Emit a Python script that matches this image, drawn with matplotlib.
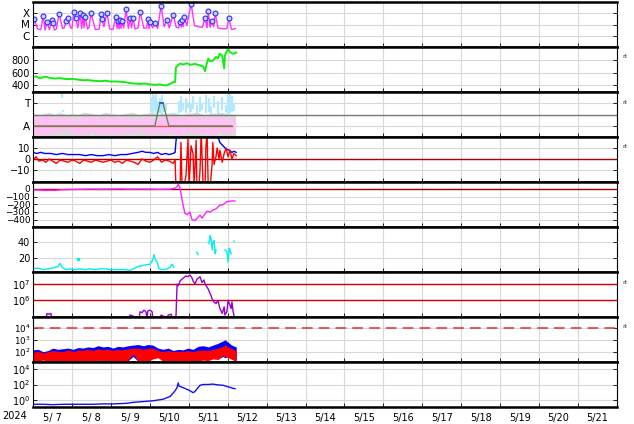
import numpy as np
import matplotlib.pyplot as plt
from matplotlib.ticker import NullLocator

# time axis: days since 2024-05-07 00:00 UT
days = ['5/ 7', '5/ 8', '5/ 9', '5/10', '5/11', '5/12', '5/13', '5/14',
        '5/15', '5/16', '5/17', '5/18', '5/19', '5/20', '5/21']

# X-ray flux (log10 W/m2): flare peaks and background points
flare_t = [0.03, 0.26, 0.36, 0.49, 0.51, 0.67, 0.85, 0.90, 1.05, 1.10, 1.21, 1.28, 1.34, 1.49,
           1.75, 1.77, 1.90, 2.13, 2.18, 2.23, 2.29, 2.39, 2.49, 2.57, 2.75, 2.95, 3.01, 3.13,
           3.29, 3.44, 3.60, 3.78, 3.83, 3.88, 4.06, 4.42, 4.50, 4.60, 4.68, 5.03]
flare_v = [-4.51, -4.24, -4.78, -4.60, -4.87, -4.06, -4.69, -4.42, -3.88, -4.42, -3.97, -4.15,
           -4.33, -3.97, -4.06, -4.51, -3.97, -4.33, -4.69, -4.60, -4.69, -3.62, -4.42, -4.42,
           -3.88, -4.51, -4.78, -4.87, -3.35, -4.60, -4.15, -4.78, -4.60, -4.33, -3.17, -4.42,
           -3.79, -4.69, -3.97, -4.42]
xbg_t = [0.00, 0.12, 0.20, 0.31, 0.42, 0.55, 0.60, 0.76, 0.80, 0.96, 1.00, 1.15, 1.25, 1.31,
         1.40, 1.44, 1.60, 1.70, 1.82, 1.97, 2.05, 2.16, 2.21, 2.26, 2.33, 2.45, 2.53, 2.62,
         2.70, 2.85, 2.92, 2.98, 3.07, 3.20, 3.37, 3.50, 3.68, 3.74, 3.81, 3.86, 3.95, 4.15,
         4.25, 4.35, 4.47, 4.55, 4.64, 4.75, 4.90, 4.98, 5.10, 5.20]
xbg_v = [-5.35, -5.4, -5.45, -5.5, -5.45, -5.5, -5.4, -5.35, -5.3, -5.25, -5.35, -5.3, -5.35,
         -5.3, -5.4, -5.25, -5.45, -5.4, -5.2, -5.4, -5.45, -5.35, -5.4, -5.35, -5.3, -5.35,
         -5.3, -5.4, -5.3, -5.35, -5.3, -5.35, -5.3, -5.35, -5.2, -5.3, -5.25, -5.3, -5.25,
         -5.2, -5.1, -5.1, -5.2, -5.25, -5.3, -5.25, -5.2, -5.3, -5.4, -5.35, -5.45, -5.35]

# solar wind speed (km/s)
sw_t = [0.00, 0.08, 0.18, 0.31, 0.44, 0.57, 0.69, 0.87, 1.00, 1.16, 1.28, 1.41, 1.54, 1.72,
        1.85, 1.98, 2.16, 2.29, 2.44, 2.57, 2.75, 2.88, 3.01, 3.13, 3.26, 3.37, 3.44, 3.52,
        3.60, 3.65, 3.67, 3.73, 3.78, 3.85, 3.96, 4.03, 4.16, 4.29, 4.37, 4.42, 4.44, 4.50,
        4.55, 4.62, 4.70, 4.75, 4.80, 4.86, 4.91, 4.93, 5.01, 5.06, 5.14, 5.22]
sw_v = [525, 540, 510, 535, 515, 505, 512, 495, 500, 488, 478, 482, 470, 463, 470, 458, 458,
        452, 440, 427, 420, 425, 411, 405, 412, 395, 400, 420, 447, 452, 682, 720, 745, 730,
        750, 725, 740, 714, 700, 620, 690, 823, 780, 792, 850, 830, 902, 870, 667, 880, 980,
        930, 900, 920]

# T/A panel (A = 0, T = 1)
ta_t = [0.00, 3.13, 3.26, 3.34, 3.49, 5.11]
ta_v = [0, 0, 1, 1, 0, 0]
ref_t = [0.00, 5.11]
pk_t = [0.00, 0.20, 0.40, 0.55, 0.62, 0.70, 0.85, 1.00, 1.15, 1.30, 1.50, 1.70, 1.85, 2.00,
        2.20, 2.40, 2.55, 2.70, 2.90, 3.05, 3.20, 3.40, 3.60, 3.80, 4.00, 4.20, 4.40, 4.60,
        4.80, 5.00, 5.20]
pk_hi = [0.45, 0.40, 0.45, 0.30, 0.40, 0.45, 0.40, 0.35, 0.30, 0.40, 0.45, 0.35, 0.40, 0.45,
         0.35, 0.40, 0.30, 0.35, 0.40, 0.30, 0.35, 0.45, 0.40, 0.35, 0.45, 0.40, 0.35, 0.45,
         0.40, 0.35, 0.30]
pk_lo = [-0.40, -0.35, -0.40, -0.15, -0.30, -0.20, -0.10, -0.30, -0.40, -0.35, -0.20, -0.40,
         -0.35, -0.30, -0.40, -0.20, -0.35, -0.10, -0.30, -0.40, -0.25, -0.35, -0.30, -0.40,
         -0.20, -0.35, -0.30, -0.40, -0.25, -0.30, -0.20]
gy_hi = [0.55, 0.50, 0.60, 0.50, 0.55, 0.60, 0.50, 0.55, 0.50, 0.60, 0.55, 0.50, 0.60, 0.55,
         0.50, 0.55, 0.60, 0.50, 0.55, 0.60, 0.50, 0.55, 0.60, 0.50, 0.55, 0.60, 0.50, 0.55,
         0.60, 0.55, 0.50]
gy_lo = [-0.45, -0.45, -0.42, -0.45, -0.40, -0.45, -0.45, -0.42, -0.45, -0.45, -0.40, -0.45,
         -0.45, -0.42, -0.45, -0.45, -0.40, -0.45, -0.45, -0.42, -0.45, -0.45, -0.40, -0.45,
         -0.45, -0.42, -0.45, -0.45, -0.40, -0.45, -0.45]
lb_t = [0.74, 0.77, 3.06, 3.09, 3.13, 3.17, 3.21, 3.27, 3.31, 3.36, 3.42, 3.75, 3.80, 3.86,
        3.92, 3.98, 4.05, 4.12, 4.20, 4.28, 4.35, 4.45, 4.52, 4.58, 4.66, 4.75, 4.85, 4.95,
        5.00, 5.05, 5.10, 5.16]
lb_lo = [1.2, 0.6, 0.6, 0.55, 0.7, 0.5, 0.6, 0.55, 0.5, 0.6, 0.7, 0.55, 0.6, 0.7, 0.55, 0.8,
         0.6, 0.75, 0.55, 0.6, 0.7, 0.55, 0.6, 0.5, 0.8, 0.55, 0.7, 0.6, 0.5, 0.55, 0.6, 0.65]
lb_hi = [1.48, 0.7, 1.2, 1.45, 1.3, 1.45, 1.1, 1.2, 1.35, 1.0, 0.95, 1.1, 1.3, 0.95, 1.2,
         1.05, 1.0, 1.3, 0.9, 1.25, 1.0, 1.35, 1.2, 0.85, 1.3, 1.1, 1.25, 0.9, 1.4, 1.45, 1.3, 1.0]

# IMF Bt (blue) and Bz (red), nT
bt_t = [0.00, 0.10, 0.20, 0.30, 0.45, 0.60, 0.75, 0.90, 1.05, 1.20, 1.35, 1.50, 1.65, 1.80,
        1.95, 2.10, 2.25, 2.40, 2.55, 2.70, 2.80, 2.90, 3.00, 3.10, 3.20, 3.30, 3.40, 3.50,
        3.60, 3.65, 3.67, 3.70, 4.70, 4.75, 4.80, 4.88, 4.96, 5.04, 5.11, 5.16, 5.22]
bt_v = [6, 5, 6, 5, 5, 4, 5, 4, 4, 4, 3, 4, 3, 3, 4, 3, 4, 4, 5, 6, 7, 6, 6, 5, 6, 4, 5, 4,
        5, 6, 15, 25, 25, 20, 15, 12, 9, 8, 6, 7, 6]
bz_t = [0.00, 0.08, 0.15, 0.25, 0.33, 0.42, 0.50, 0.60, 0.70, 0.80, 0.90, 1.00, 1.10, 1.20,
        1.30, 1.40, 1.50, 1.60, 1.70, 1.80, 1.90, 2.00, 2.10, 2.20, 2.30, 2.40, 2.50, 2.60,
        2.70, 2.80, 2.90, 3.00, 3.10, 3.20, 3.30, 3.40, 3.50, 3.60, 3.65,
        3.67, 3.73, 3.78, 3.80, 3.83, 3.88, 3.93, 3.98, 4.01, 4.06, 4.11, 4.14, 4.19, 4.21,
        4.26, 4.29, 4.32, 4.37, 4.42, 4.44, 4.47, 4.50, 4.55, 4.60, 4.62, 4.65, 4.70, 4.73,
        4.78, 4.80, 4.86, 4.91, 4.96, 5.01, 5.06, 5.11, 5.16, 5.22]
bz_v = [-1, 2, -2, -1, -3, 0, -2, -4, -1, -2, -3, -1, -2, -4, -1, -2, -3, -1, -2, -3, -2, -1,
        -3, -2, -4, -1, -2, -3, -5, 0, -2, -3, -1, 2, -3, -1, -2, -4, -1,
        -25, -25, -25, 15, -25, -25, -15, 18, -25, 12, 5, -25, 17, -25, -25, -10, 25, -25,
        -25, 10, 25, -25, -25, -5, 15, -5, 2, 10, 0, 8, -3, 5, 10, 2, 8, 0, 5, 3]

# Dst (nT)
dst_t = [0.00, 0.18, 0.31, 0.44, 0.57, 0.69, 0.95, 1.21, 1.46, 1.72, 1.98, 2.23, 2.49, 2.75,
         3.01, 3.26, 3.52, 3.65, 3.70, 3.73, 3.78, 3.83, 3.90, 3.96, 4.03, 4.08, 4.16, 4.24,
         4.29, 4.34, 4.47, 4.55, 4.62, 4.70, 4.80, 4.88, 4.98, 5.14, 5.19]
dst_v = [-15, -15, -20, -18, -20, -12, -8, -5, -2, -3, -2, 0, -3, -2, -3, -5, -3, 10, 30, 60,
         10, -145, -315, -335, -300, -395, -410, -370, -340, -380, -290, -300, -275, -260,
         -210, -205, -165, -155, -158]

# proton density-like cyan series (gaps as nan)
cy_t = [0.00, 0.13, 0.26, 0.39, 0.51, 0.64, 0.69, 0.75, 0.85, 0.95, 1.08, 1.21, 1.34, 1.46,
        1.59, 1.72, 1.85, 1.98, 2.11, 2.23, 2.36, 2.49, 2.62, 2.70, 2.80, 2.90, 3.01, 3.06,
        3.11, 3.13, 3.19, 3.24, 3.34, 3.44, 3.52, 3.57, 3.62, 3.90, 4.21, 4.24, 4.40, 4.52,
        4.55, 4.57, 4.60, 4.62, 4.65, 4.68, 4.70, 4.80, 4.93, 4.98, 5.01, 5.04, 5.06, 5.09,
        5.12, 5.16, 5.17]
cy_v = [6, 7, 5, 6, 7, 9, 13, 8, 5, 6, 5, 6, 5, 6, 5, 6, 6, 5, 5, 5, 5, 4, 7, 9, 10, 11, 12,
        16, 24, 19, 14, 6, 5, 6, 8, 12, 8, np.nan, 27, 24, np.nan, 38, 48, 45, 30, 40, 42, 25,
        30, np.nan, 30, 28, 15, 32, 30, 25, np.nan, 41, 41]
cy_dot_t = [1.16]
cy_dot_v = [19]

# electron flux (log10)
pu_t = [0.00, 0.33, 0.36, 0.41, 0.46, 0.49, 2.44, 2.49, 2.57, 2.59, 2.72, 2.75, 2.80, 2.85,
        2.90, 2.93, 2.95, 3.01, 3.06, 3.08, 3.26, 3.29, 3.34, 3.37, 3.44, 3.47, 3.55, 3.57,
        3.67, 3.70, 3.73, 3.78, 3.85, 3.93, 3.98, 4.03, 4.08, 4.11, 4.16, 4.21, 4.29, 4.34,
        4.39, 4.42, 4.50, 4.57, 4.60, 4.65, 4.70, 4.75, 4.80, 4.86, 4.91, 4.93, 4.98, 5.01,
        5.06, 5.09, 5.11, 5.14, 5.19]
pu_v = [4.8, 4.8, 5.2, 5.15, 5.2, 4.8, 4.8, 5.1, 5.05, 4.8, 4.8, 5.3, 5.25, 5.4, 5.3, 4.9,
        5.35, 5.4, 5.3, 4.8, 4.8, 5.1, 5.05, 4.8, 4.8, 5.1, 5.15, 4.8, 4.8, 7.0, 6.9, 7.2,
        7.35, 7.5, 7.45, 7.55, 7.4, 7.2, 7.0, 7.3, 7.45, 7.1, 7.25, 7.0, 6.7, 6.3, 6.1, 5.9,
        5.8, 6.0, 5.5, 5.2, 5.6, 5.1, 5.3, 6.0, 5.7, 5.5, 5.9, 5.3, 4.8]

# proton flux bands (log10): blue and red channels
p8_t = [0.00, 0.13, 0.26, 0.39, 0.51, 0.64, 0.77, 0.90, 1.03, 1.16, 1.28, 1.41, 1.54, 1.67,
        1.80, 1.93, 2.05, 2.18, 2.31, 2.44, 2.57, 2.70, 2.83, 2.95, 3.08, 3.21, 3.34, 3.47,
        3.60, 3.73, 3.85, 3.98, 4.11, 4.24, 4.37, 4.50, 4.62, 4.75, 4.88, 4.93, 5.01, 5.08,
        5.14, 5.22]
bl_hi = [2.15, 2.2, 2.0, 2.1, 2.3, 2.2, 2.25, 2.3, 2.2, 2.35, 2.3, 2.4, 2.35, 2.5, 2.4, 2.45,
         2.3, 2.45, 2.4, 2.5, 2.55, 2.6, 2.5, 2.6, 2.55, 2.3, 2.2, 2.3, 2.1, 2.2, 2.15, 2.3,
         2.2, 2.45, 2.5, 2.4, 2.55, 2.7, 2.9, 3.0, 2.8, 2.6, 2.5, 2.4]
bl_lo = [1.3, 1.2, 1.5, 1.2, 1.3, 1.2, 1.25, 1.2, 1.3, 1.2, 1.25, 1.3, 1.2, 1.3, 1.25, 1.2,
         1.3, 1.2, 1.3, 1.25, 1.6, 1.2, 1.3, 1.2, 1.5, 1.6, 1.3, 1.2, 1.25, 1.2, 1.3, 1.2, 1.3,
         1.2, 1.4, 1.3, 1.5, 1.4, 1.6, 1.5, 1.6, 1.5, 1.4, 1.3]
rd_hi = [1.95, 2.05, 1.9, 2.0, 2.1, 2.05, 2.0, 2.15, 2.0, 2.15, 2.1, 2.2, 2.1, 2.25, 2.15,
         2.2, 2.1, 2.2, 2.15, 2.25, 2.3, 2.3, 2.2, 2.3, 2.3, 2.1, 2.0, 2.1, 2.0, 2.05, 2.0,
         2.1, 2.0, 2.1, 2.15, 2.1, 2.2, 2.3, 2.45, 2.6, 2.4, 2.3, 2.2, 2.1]
rd_lo = [1.25, 1.2, 1.3, 1.2, 1.25, 1.2, 1.3, 1.2, 1.25, 1.2, 1.2, 1.25, 1.2, 1.3, 1.2, 1.2,
         1.25, 1.2, 1.2, 1.3, 1.8, 1.2, 1.25, 1.2, 1.4, 1.5, 1.2, 1.2, 1.25, 1.2, 1.25, 1.2,
         1.2, 1.2, 1.3, 1.25, 1.4, 1.35, 1.7, 1.6, 1.5, 1.4, 1.3, 1.2]

# bottom panel (log10)
p9_t = [0.00, 0.26, 0.51, 0.77, 1.03, 1.28, 1.54, 1.80, 2.05, 2.31, 2.44, 2.57, 2.70, 2.83,
        2.95, 3.08, 3.21, 3.34, 3.44, 3.52, 3.60, 3.65, 3.70, 3.73, 3.75, 3.80, 3.90, 4.03,
        4.11, 4.16, 4.24, 4.29, 4.37, 4.50, 4.62, 4.75, 4.88, 5.01, 5.11, 5.19]
p9_v = [-0.55, -0.55, -0.6, -0.55, -0.55, -0.55, -0.55, -0.5, -0.5, -0.45, -0.4, -0.3, -0.25,
        -0.2, -0.15, -0.1, 0.0, 0.1, 0.3, 0.45, 0.9, 1.2, 1.6, 2.2, 1.8, 1.7, 1.5, 1.2, 0.95,
        1.1, 1.6, 1.9, 2.0, 2.0, 2.05, 1.95, 1.9, 1.7, 1.55, 1.45]

W, H = 634, 424
plt.rcParams['font.family'] = 'DejaVu Sans'
plt.rcParams['font.size'] = 7
fig = plt.figure(figsize=(W / 100, H / 100), dpi=100)

axes = []
for i in range(9):
    top = 2 + 45 * i
    ax = fig.add_axes([33 / W, 1 - (top + 45) / H, 584 / W, 45 / H])
    ax.set_xlim(0, 15)
    ax.set_xticks(range(16))
    ax.tick_params(axis='x', labelbottom=False)
    ax.tick_params(direction='in', length=3, right=True, pad=2, labelsize=7, width=0.6)
    ax.grid(True, color='#d8d8d8', lw=0.8)
    ax.set_axisbelow(True)
    for s in ['top', 'bottom']:
        ax.spines[s].set_linewidth(1.8)
    for s in ['left', 'right']:
        ax.spines[s].set_linewidth(0.8)
    axes.append(ax)


def log_ticks(ax, ticks):
    ax.set_yscale('log')
    ax.set_yticks(ticks)
    ax.yaxis.set_minor_locator(NullLocator())


# 1: X-ray
ax = axes[0]
xr_t = np.array(xbg_t + flare_t)
xr_v = np.array(xbg_v + flare_v)
order = np.argsort(xr_t)
ax.plot(xr_t[order], 10 ** xr_v[order], color='#ff33ff', lw=1)
ax.plot(flare_t, 10 ** np.array(flare_v), 'o', ms=3.5, mfc='#d0d0ff', mec='#2a2aff', mew=0.8)
log_ticks(ax, [1e-6, 1e-5, 1e-4])
ax.set_yticklabels(['C', 'M', 'X'], fontsize=7.5)
ax.set_ylim(1e-7, 1e-3)

# 2: solar wind
ax = axes[1]
ax.plot(sw_t, sw_v, color='#11ee11', lw=1.4)
ax.set_yticks([400, 600, 800])
ax.set_ylim(290, 1010)

# 3: T / A
ax = axes[2]
ax.fill_between(pk_t, gy_lo, gy_hi, color='#dadada', lw=0)
ax.fill_between(pk_t, pk_lo, pk_hi, color='#ffc0f4', lw=0)
ax.vlines(lb_t, lb_lo, lb_hi, color='#b3e9ff', lw=1.6)
ax.axhline(0.5, color='#777777', lw=1)
ax.plot(ref_t, [0, 0], color='#ee5555', lw=1)
ax.plot(ta_t, ta_v, color='#5a8a5a', lw=1)
ax.plot(ta_t[2:4], ta_v[2:4], color='#3344ff', lw=1.2)
ax.set_yticks([0, 1])
ax.set_yticklabels(['A', 'T'], fontsize=7.5)
ax.set_ylim(-0.48, 1.48)

# 4: IMF
ax = axes[3]
ax.axhline(0, color='#aa0000', lw=1)
ax.plot(bt_t, bt_v, color='#0000ff', lw=1)
ax.plot(bz_t, bz_v, color='#ff0000', lw=1)
ax.set_yticks([-10, 0, 10])
ax.set_ylim(-21, 20)

# 5: Dst
ax = axes[4]
ax.axhline(0, color='#aa0000', lw=1)
ax.plot(dst_t, dst_v, color='#ff22ff', lw=1)
ax.set_yticks([-400, -300, -200, -100, 0])
ax.tick_params(axis='y', labelsize=6.5)
ax.set_ylim(-495, 90)

# 6: cyan
ax = axes[5]
ax.plot(cy_t, cy_v, color='#00eeee', lw=1)
ax.plot(cy_dot_t, cy_dot_v, 's', ms=1.5, color='#00eeee')
ax.set_yticks([20, 40])
ax.set_ylim(2, 59)

# 7: electron flux
ax = axes[6]
ax.axhline(1e6, color='#cc0000', lw=1)
ax.axhline(1e7, color='#cc0000', lw=1)
ax.plot(pu_t, 10 ** np.array(pu_v), color='#9a00cc', lw=1)
log_ticks(ax, [1e6, 1e7])
ax.set_ylim(10 ** 4.98, 10 ** 7.74)

# 8: proton bands
ax = axes[7]
ax.axhline(1e4, color='#dd3333', lw=1.1, ls=(0, (7, 4)))
ax.fill_between(p8_t, 10 ** np.array(bl_lo), 10 ** np.array(bl_hi), color='#0000ff', lw=0)
ax.fill_between(p8_t, 10 ** np.array(rd_lo), 10 ** np.array(rd_hi), color='#ff0000', lw=0)
log_ticks(ax, [1e2, 1e3, 1e4])
ax.tick_params(axis='y', labelsize=6.3)
ax.set_ylim(10 ** 1.14, 10 ** 4.9)

# 9: bottom
ax = axes[8]
ax.plot(p9_t, 10 ** np.array(p9_v), color='#1111ee', lw=1)
log_ticks(ax, [1e0, 1e2, 1e4])
ax.set_ylim(10 ** -0.9, 10 ** 4.9)
ax.set_xticks(np.arange(15) + 0.5, minor=True)
ax.set_xticklabels(days, minor=True)
ax.tick_params(axis='x', which='minor', length=0, pad=4, labelsize=7, labelbottom=True)

fig.text(15 / W, 1 - 416 / H, '2024', ha='center', va='center', fontsize=7)
for yy in [57, 102, 147, 282, 327]:
    fig.text(622 / W, 1 - yy / H, 'rt', ha='left', va='center', fontsize=4.5, color='#333333')

fig.savefig('out.png', dpi=100)
